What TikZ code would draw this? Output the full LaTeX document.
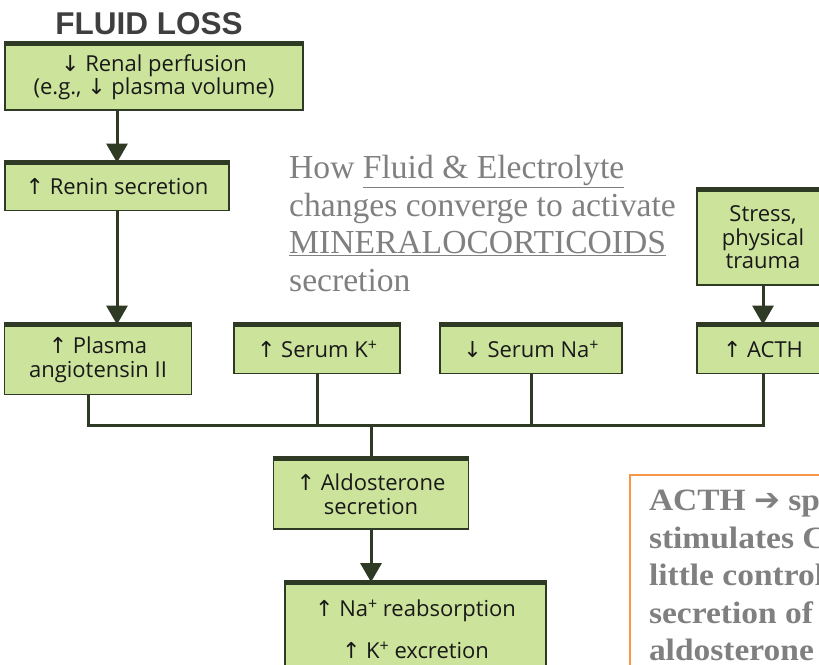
\documentclass[tikz,border=0pt]{standalone}
\usepackage{fontspec}
\setmainfont{Liberation Serif}
\newfontfamily\notefont[FakeStretch=1.08]{Liberation Serif}
\newfontfamily\boxfont{Open Sans}
\newfontfamily\symfont{DejaVu Sans}
\newfontfamily\headfont{Liberation Sans}
\usetikzlibrary{arrows.meta,positioning}

\definecolor{boxgreen}{HTML}{CCE39B}
\definecolor{boxline}{HTML}{2E3A24}
\definecolor{notegray}{HTML}{808080}
\definecolor{titlegray}{HTML}{3F3F3F}
\definecolor{noteorange}{HTML}{F79646}

\newcommand{\upar}{{\symfont\char"2191} }
\newcommand{\dnar}{{\symfont\char"2193} }
\newcommand{\plus}{\raisebox{.6ex}{\fontsize{16}{16}\selectfont +}}

\begin{document}
\begin{tikzpicture}[x=1pt,y=-1pt,
    box/.style={draw=boxline, fill=boxgreen, line width=1.8pt, align=center,
      inner sep=0pt, text=black!90,
      font=\boxfont\fontsize{22}{23.5}\selectfont},
    bar/.style={boxline, line width=5pt},
    link/.style={boxline, line width=3pt},
    arr/.style={link, -{Triangle[width=21pt,length=19pt]}}]
    \useasboundingbox (0,0) rectangle (819,664);
    \clip (0,0) rectangle (819,664);

    \node (title) [font=\headfont\bfseries\fontsize{31.5}{31.5}\selectfont, text=titlegray, inner sep=0pt] at (149,24) {FLUID LOSS};

    \node (perf) [box, minimum width=298pt, minimum height=66pt] at (154,77) {\dnar Renal perfusion\\(e.g., \dnar plasma volume)};
    \node (renin) [box, minimum width=224pt, minimum height=47pt] at (117,187) {\upar Renin secretion};
    \node (angio) [box, minimum width=187pt, minimum height=69pt] at (98,360) {\upar Plasma\\angiotensin II};
    \node (serk) [box, minimum width=166pt, minimum height=48pt] at (317,349.5) {\upar Serum K\plus};
    \node (serna) [box, minimum width=182pt, minimum height=48pt] at (531,349.5) {\dnar Serum Na\plus};
    \node (stress) [box, minimum width=132pt, minimum height=95pt] at (763,237.5) {Stress,\\physical\\trauma};
    \node (acth) [box, minimum width=132pt, minimum height=48pt] at (763,349.5) {\upar ACTH};
    \node (aldo) [box, minimum width=195pt, minimum height=70pt] at (371,494) {\upar Aldosterone\\secretion};
    \node (reab) [box, minimum width=261pt, minimum height=92pt, font=\boxfont\fontsize{22}{42}\selectfont] at (415.5,629) {\upar Na\plus{} reabsorption\\\upar K\plus{} excretion};

    % thick top edge of each box
    \foreach \n in {perf,renin,angio,serk,serna,stress,acth,aldo,reab}
      \draw[bar] (\n.north west) -- (\n.north east);

    \node (howto) [anchor=north west, align=left, inner sep=0pt, text=notegray,
      font=\fontsize{33.6}{37.5}\selectfont] at (289,155)
      {How \underline{Fluid \& Electrolyte}\\changes converge to activate\\\underline{MINERALOCORTICOIDS}\\secretion};

    \node (note) [draw=noteorange, line width=2pt, anchor=north west, align=left,
      inner xsep=19pt, inner ysep=14pt, text=notegray,
      font=\notefont\bfseries\fontsize{31}{37.5}\selectfont] at (629,474)
      {ACTH {\symfont\bfseries\char"2794} specifically\\stimulates Cortisol;\\little control over\\secretion of\\aldosterone\\ };

    \coordinate (jA) at (88,425);
    \coordinate (jD) at (763,425);

    \draw[arr] (renin.north |- perf.south) -- (renin.north);
    \draw[arr] (renin.south) -- (renin.south |- angio.north);
    \draw[arr] (stress) -- (acth);
    \draw[link] (angio.south -| jA) -- (jA) -- (jD) -- (acth.south);
    \draw[link] (serk.south) -- (serk.south |- jA);
    \draw[link] (serna.south) -- (serna.south |- jA);
    \draw[link] (aldo.north |- jA) -- (aldo.north);
    \draw[arr] (aldo.south) -- (aldo.south |- reab.north);
  \end{tikzpicture}
\end{document}
